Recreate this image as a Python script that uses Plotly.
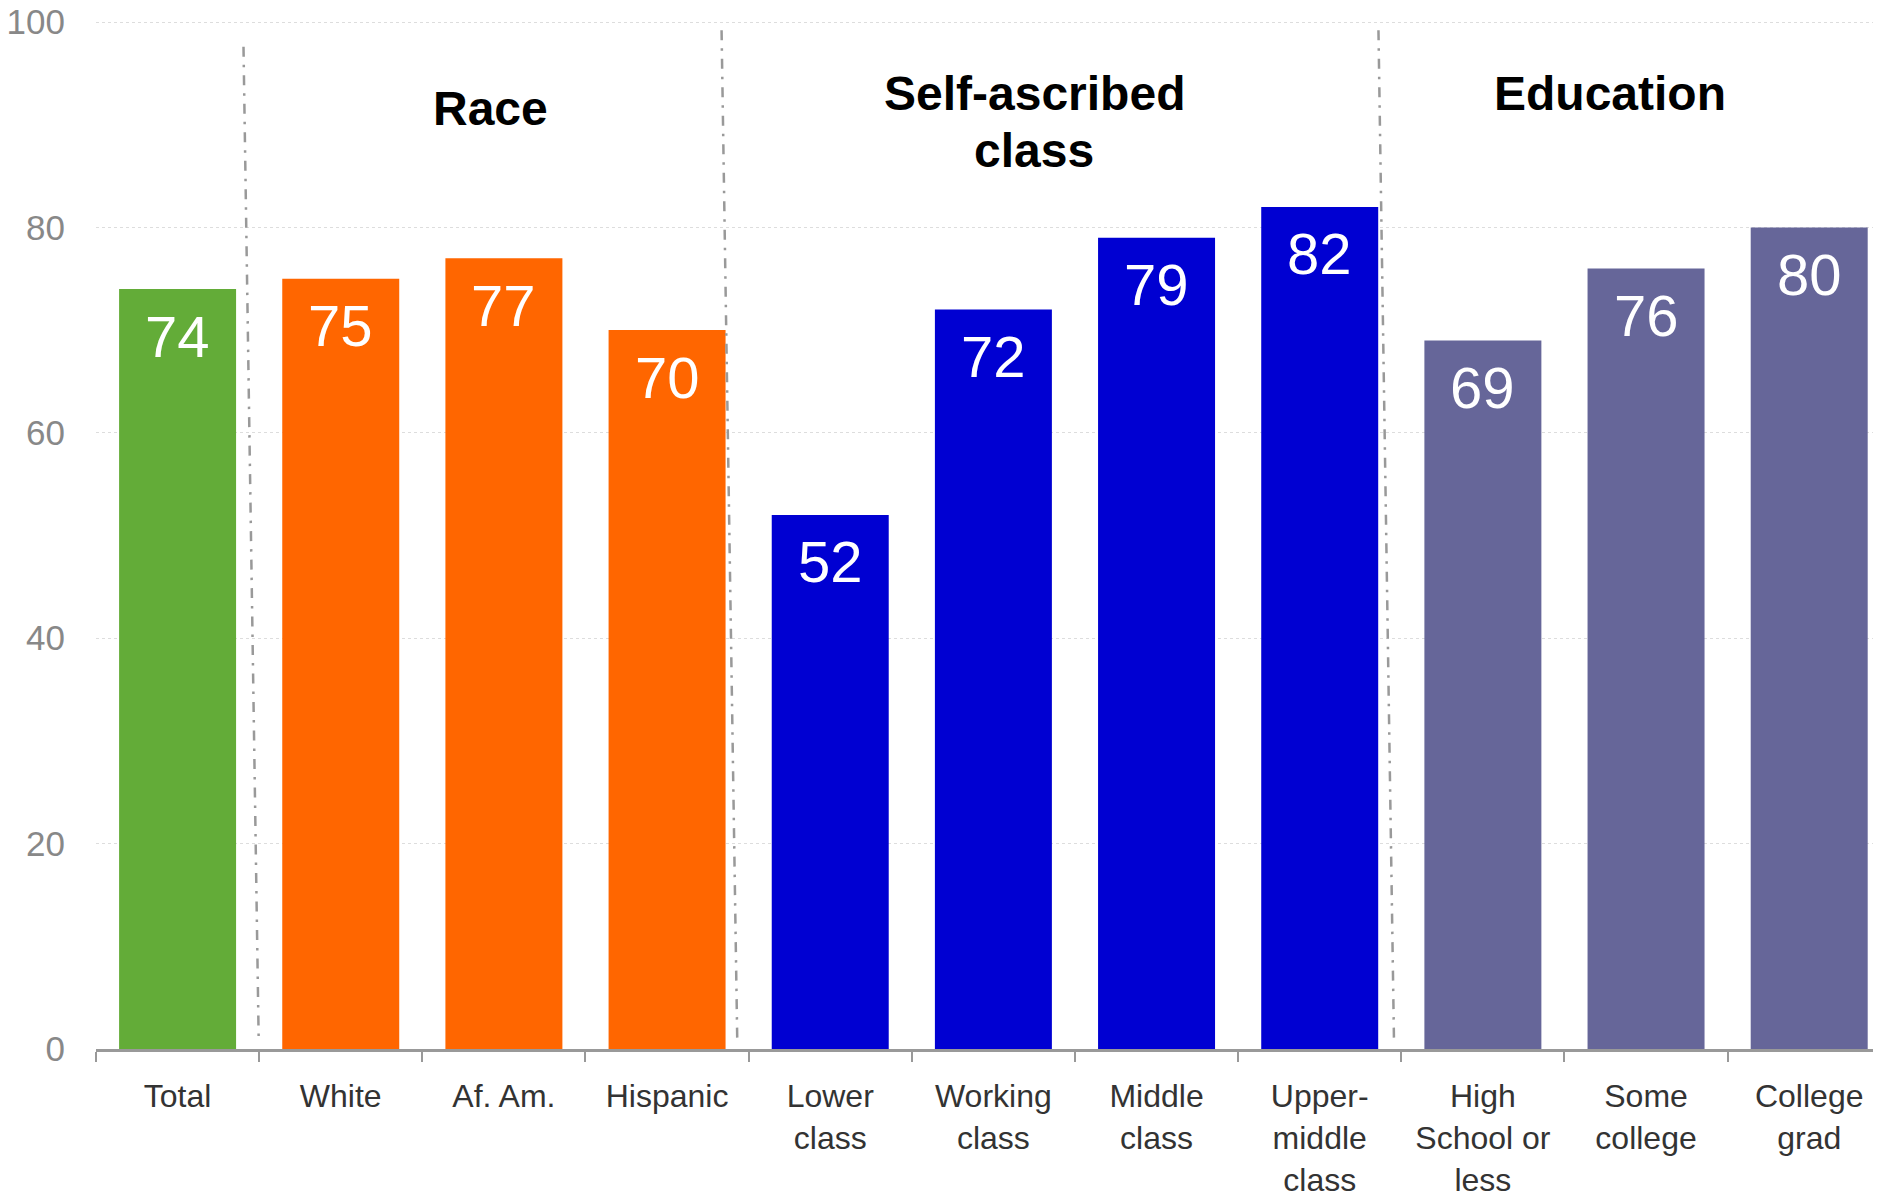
import plotly.graph_objects as go

categories = ["Total", "White", "Af. Am.", "Hispanic", "Lower class", "Working class",
              "Middle class", "Upper-middle class", "High School or less", "Some college", "College grad"]
tick_labels = ["Total", "White", "Af. Am.", "Hispanic", "Lower<br>class", "Working<br>class",
               "Middle<br>class", "Upper-<br>middle<br>class", "High<br>School or<br>less",
               "Some<br>college", "College<br>grad"]
values = [74, 75, 77, 70, 52, 72, 79, 82, 69, 76, 80]
bar_colors = ["#63AC38", "#FF6600", "#FF6600", "#FF6600", "#0000D2", "#0000D2", "#0000D2",
              "#0000D2", "#666699", "#666699", "#666699"]
y_ticks = [0, 20, 40, 60, 80, 100]

FONT = "Arial, Liberation Sans, sans-serif"

fig = go.Figure()
fig.add_trace(go.Bar(
    x=categories, y=values, marker=dict(color=bar_colors, line=dict(width=0)),
    hoverinfo="x+y",
))

# value labels inside bar tops
for c, v in zip(categories, values):
    fig.add_annotation(x=c, y=v, xref="x", yref="y", text=str(v), showarrow=False,
                       xanchor="center", yanchor="middle", yshift=-47,
                       font=dict(family=FONT, size=58, color="white"))

# group dividers (slightly slanted dash-dot lines)
dividers = [((0.404, 97.6), (0.497, 1.0)), ((3.334, 99.2), (3.43, 1.0)), ((7.36, 99.2), (7.455, 1.0))]
for (x0, y0), (x1, y1) in dividers:
    fig.add_shape(type="line", xref="x", yref="y", x0=x0, y0=y0, x1=x1, y1=y1,
                  line=dict(color="#999999", width=2.5, dash="10px,8px,2.5px,8px"))

# group titles
titles = [(1.92, 91.6, "Race"), (5.25, 93.0, "Self-ascribed"), (5.25, 87.5, "class"), (8.78, 93.0, "Education")]
for x, y, t in titles:
    fig.add_annotation(x=x, y=y, xref="x", yref="y", text="<b>%s</b>" % t, showarrow=False,
                       xanchor="center", yanchor="middle",
                       font=dict(family=FONT, size=48, color="black"))

fig.update_layout(
    width=1873, height=1184,
    margin=dict(l=88, r=0, t=13, b=143, autoexpand=False),
    plot_bgcolor="white", paper_bgcolor="white",
    showlegend=False, bargap=0.283,
    font=dict(family=FONT),
)
fig.update_xaxes(
    tickvals=categories, ticktext=tick_labels, range=[-0.5, 10.44], automargin=False,
    tickson="boundaries", ticks="outside", ticklen=10, tickwidth=2, tickcolor="#999999",
    showline=True, linecolor="#999999", linewidth=3, showgrid=False,
    tickfont=dict(family=FONT, size=32, color="#333333"), ticklabelstandoff=17,
)
fig.update_yaxes(
    range=[0, 100.1], tickvals=y_ticks, showgrid=True, gridcolor="#dddddd", gridwidth=1,
    griddash="dot", zeroline=False, showline=False, ticks="", automargin=False,
    ticklabeloverflow="allow",
    tickfont=dict(family=FONT, size=35, color="#888888"), ticklabelstandoff=30,
)

fig.write_html("out.html")
